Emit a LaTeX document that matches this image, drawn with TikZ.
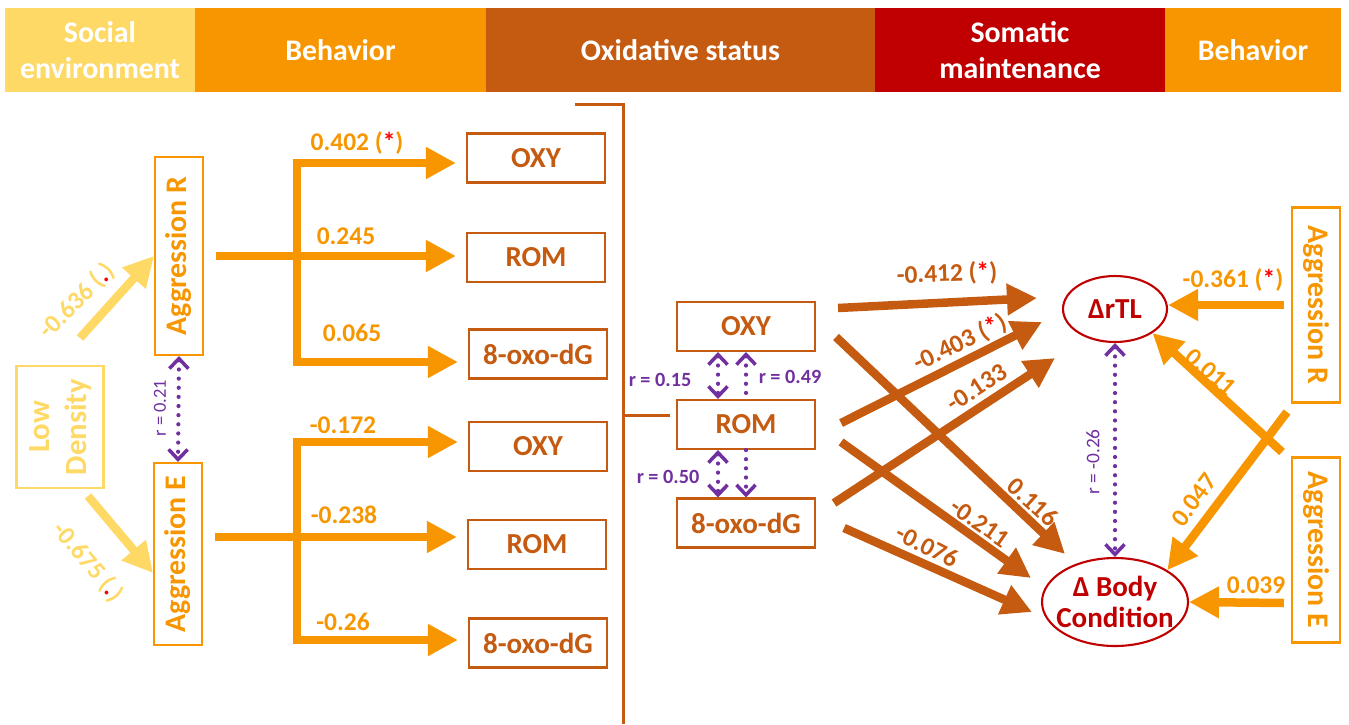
\documentclass[tikz,border=0pt]{standalone}
\usepackage{fontspec}
\setmainfont{Carlito}
\usetikzlibrary{arrows.meta,calc,shapes.geometric}

\definecolor{socyel}{HTML}{FFD966}
\definecolor{behorg}{HTML}{F79600}
\definecolor{oxbrn}{HTML}{C55A11}
\definecolor{somred}{HTML}{C00000}
\definecolor{corpur}{HTML}{7030A0}
\definecolor{sigred}{HTML}{FF0000}

\tikzstyle{header}=[inner sep=0pt, minimum height=1.68cm, text=white, align=center, font=\bfseries\fontsize{17}{20.5}\selectfont]
\tikzstyle{oxbox}=[draw=oxbrn, line width=1.2pt, fill=white, text=oxbrn, minimum width=2.76cm, minimum height=0.98cm, inner sep=0pt, font=\bfseries\fontsize{16.5}{18}\selectfont]
\tikzstyle{behbox}=[draw=behorg, line width=1.2pt, text=behorg, minimum height=0.96cm, inner sep=0pt, align=center, font=\bfseries\fontsize{17}{20}\selectfont]
\tikzstyle{somell}=[ellipse, draw=somred, line width=1.2pt, text=somred, inner sep=0pt, align=center, font=\bfseries\fontsize{16.5}{17.5}\selectfont]
\tikzstyle{thickarrow}=[line width=0.17cm, -{Triangle[length=0.6cm,width=0.6cm]}]
\tikzstyle{corr}=[corpur, line width=2.4pt, line cap=round, dash pattern=on 0pt off 5.2pt, >={Straight Barb[length=0.2cm,width=0.38cm,line width=2pt]}]
\tikzstyle{weight}=[inner sep=1pt, font=\bfseries\fontsize{14.5}{16}\selectfont]
\tikzstyle{rweight}=[inner sep=1pt, text=corpur, font=\fontsize{10.5}{12}\selectfont]

\begin{document}
\begin{tikzpicture}[x=0.02cm, y=-0.02cm]
\useasboundingbox (0,0) rectangle (1349,724);

    % header bands
    \foreach \xc/\bw/\col/\name/\txt in {100/3.8cm/socyel/hsoc/{Social\\environment}, 340.5/5.82cm/behorg/hbeh/{Behavior}, 680.5/7.78cm/oxbrn/hox/{Oxidative status}, 1020/5.8cm/somred/hsom/{Somatic\\maintenance}, 1253/3.52cm/behorg/hbeh2/{Behavior}}
        \node[header, fill=\col, minimum width=\bw] (\name) at (\xc,50) {\txt};

    % boxes
    \node[behbox, draw=socyel, text=socyel, rotate=90, minimum width=2.44cm, minimum height=1.74cm, font=\bfseries\fontsize{17.5}{21}\selectfont] (lowd) at (60,427) {Low\\Density};
    \node[behbox, rotate=90, minimum width=3.96cm] (aggR) at (179,256) {Aggression R};
    \node[behbox, rotate=90, minimum width=3.64cm] (aggE) at (178,554) {Aggression E};
    \node[behbox, rotate=-90, minimum width=3.9cm] (aggRr) at (1316,305) {Aggression R};
    \node[behbox, rotate=-90, minimum width=3.7cm] (aggEr) at (1316,550) {Aggression E};

    \foreach \pos/\name/\txt in {{(536,158)/OXYa/OXY}, {(536,257.5)/ROMa/ROM}, {(538,354)/oxoa/8-oxo-dG}, {(538,446.5)/OXYb/OXY}, {(537,544.5)/ROMb/ROM}, {(538,643)/oxob/8-oxo-dG}, {(746,326.5)/OXYc/OXY}, {(746,424.5)/ROMc/ROM}, {(746,523)/oxoc/8-oxo-dG}}
        \node[oxbox] (\name) at \pos {\txt};

    \node[somell, minimum width=2.08cm, minimum height=1.32cm] (rtl) at (1115,309) {ΔrTL};
    \node[somell, inner xsep=-0.2cm, minimum width=2.92cm, minimum height=1.76cm] (bc) at (1115,602) {Δ Body\\Condition};

    % social environment -> behavior
    \draw[thickarrow, socyel] ([shift={(20,-89)}]lowd.center) -- (aggR.north);
    \draw[thickarrow, socyel] ([shift={(28,69)}]lowd.center) -- ([shift={(0,19)}]aggE.north);
    \node[weight, text=socyel, rotate=45] (wl1) at (77,301) {-0.636 (\textcolor{sigred}{.})};
    \node[weight, text=socyel, rotate=-50] (wl2) at (88,562) {-0.675 (\textcolor{sigred}{.})};

    % behavior -> oxidative status
    \coordinate (brRt) at (297,163);
    \coordinate (brRb) at (297,362);
    \coordinate (brEt) at (297,442);
    \coordinate (brEm) at (297,537);
    \coordinate (brEb) at (297,640);
    \draw[thickarrow, behorg, shorten <=0.24cm, shorten >=0.2cm] (aggR.south) -- (aggR.south -| ROMa.west);
    \draw[thickarrow, behorg, shorten >=0.2cm] (brRb) -- (brRt) -- (brRt -| OXYa.west);
    \draw[thickarrow, behorg, shorten >=0.2cm] (brRt) -- (brRb) -- (brRb -| oxoa.west);
    \draw[thickarrow, behorg, shorten <=0.24cm, shorten >=0.2cm] (aggE.south |- brEm) -- (brEm -| ROMb.west);
    \draw[thickarrow, behorg, shorten >=0.2cm] (brEb) -- (brEt) -- (brEt -| OXYb.west);
    \draw[thickarrow, behorg, shorten >=0.2cm] (brEt) -- (brEb) -- (brEb -| oxob.west);

    \foreach \pos/\name/\txt in {{(357,143)/wa1/{0.402 (\textcolor{sigred}{*})}}, {(346,236)/wa2/0.245}, {(352,333)/wa3/0.065}, {(343,425)/wb1/-0.172}, {(344,515)/wb2/-0.238}, {(343,622)/wb3/-0.26}}
        \node[weight, text=behorg] (\name) at \pos {\txt};

    % divider
    \coordinate (dvtop) at (575,104);
    \coordinate (dvcor) at (623,104);
    \coordinate (dvbot) at (623,724);
    \coordinate (dvmid) at (623,415);
    \draw[oxbrn, line width=0.06cm] (dvtop) -- (dvcor) -- (dvbot);
    \draw[oxbrn, line width=0.06cm, shorten >=0.12cm] (dvmid) -- (dvmid -| ROMc.west);

    % oxidative status -> somatic maintenance
    \foreach \src/\sx/\sy/\dst/\dx/\dy in {OXYc.east/22/-18.5/rtl.west/-25/-11, ROMc.east/25/-1.5/rtl.west/-20/13, oxoc.east/18/-20/rtl.south/-60/15, OXYc.east/20/10.5/bc.north/-50/-3, ROMc.east/25/17.5/bc.west/-10/-24, oxoc.east/28/5/bc.west/-9/10}
        \draw[thickarrow, oxbrn] ([shift={(\sx,\sy)}]\src) -- ([shift={(\dx,\dy)}]\dst);

    \foreach \pos/\ang/\name/\txt in {{(947,274)/2/wc1/{-0.412 (\textcolor{sigred}{*})}}, {(960,343)/26/wc2/{-0.403 (\textcolor{sigred}{*})}}, {(977,388)/33/wc3/-0.133}, {(1033,502)/-42/wc4/0.116}, {(980,523)/-35/wc5/-0.211}, {(927,546)/-27/wc6/-0.076}}
        \node[weight, text=oxbrn, rotate=\ang] (\name) at \pos {\txt};

    % behavior -> somatic maintenance
    \coordinate (xa) at (1282,452);
    \coordinate (xb) at (1287,412);
    \draw[thickarrow, behorg, shorten <=0.14cm] (aggRr.south) -- (aggRr.south -| rtl.east);
    \draw[thickarrow, behorg] ([shift={(-7,53)}]aggEr.south) -- (bc.east);
    \draw[thickarrow, behorg] (xa) -- (rtl.south east);
    \draw[thickarrow, behorg] (xb) -- (bc.north east);

    \foreach \pos/\ang/\name/\txt in {{(1233,280)/0/wd1/{-0.361 (\textcolor{sigred}{*})}}, {(1211,372)/-41/wd2/0.011}, {(1194,500)/53/wd3/0.047}, {(1256,585)/0/wd4/0.039}}
        \node[weight, text=behorg, rotate=\ang] (\name) at \pos {\txt};

    % correlations
    \draw[corr, <->] (aggR.west) -- (aggE.east);
    \draw[corr, <->] ([xshift=-0.56cm]OXYc.south) -- ([xshift=-0.56cm]ROMc.north);
    \draw[corr, <->] ([xshift=-0.56cm]ROMc.south) -- ([xshift=-0.56cm]oxoc.north);
    \draw[corr, <-] (OXYc.south) -- (ROMc.north);
    \draw[corr, ->] (ROMc.south) -- (oxoc.north);
    \draw[corr, <->] (rtl.south) -- (bc.north);

    \node[rweight, rotate=90] (r1) at (160,408) {r = 0.21};
    \node[rweight, font=\bfseries\fontsize{11.5}{13}\selectfont] (r2) at (660,380) {r = 0.15};
    \node[rweight, font=\bfseries\fontsize{11.5}{13}\selectfont] (r3) at (790,377) {r = 0.49};
    \node[rweight, font=\bfseries\fontsize{11.5}{13}\selectfont] (r4) at (668,477) {r = 0.50};
    \node[rweight, rotate=90, font=\fontsize{11}{13}\selectfont] (r5) at (1093,462) {r = -0.26};

\end{tikzpicture}
\end{document}
